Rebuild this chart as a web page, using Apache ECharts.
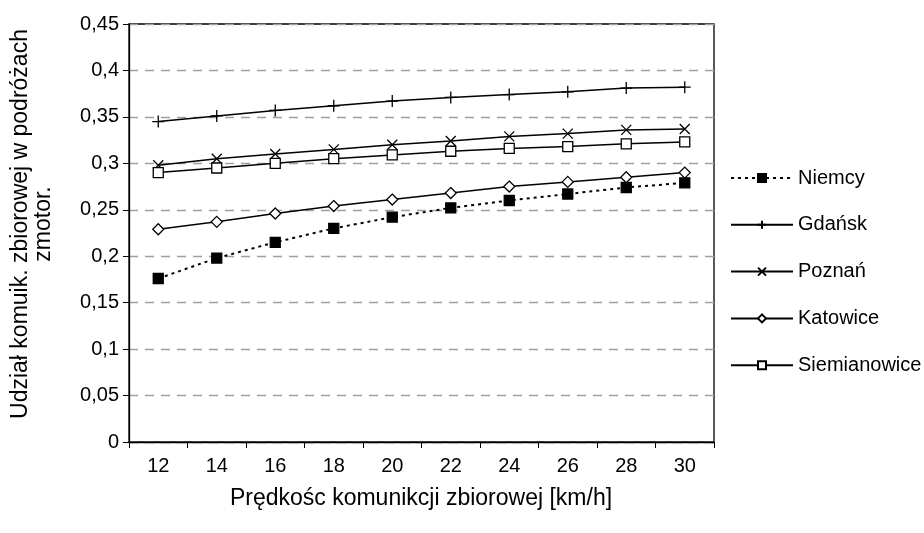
<!DOCTYPE html>
<html>
<head>
<meta charset="utf-8">
<script src="https://cdn.jsdelivr.net/npm/echarts@6/dist/echarts.min.js"></script>
<style>html,body{margin:0;padding:0;background:#fff}#c{width:924px;height:533px}</style>
</head>
<body>
<div id="c"></div>
<script>
const categories = ['12','14','16','18','20','22','24','26','28','30'];
const niemcy = [0.176,0.198,0.215,0.230,0.242,0.252,0.260,0.267,0.274,0.279];
const gdansk = [0.345,0.351,0.357,0.362,0.367,0.371,0.374,0.377,0.381,0.382];
const poznan = [0.298,0.305,0.310,0.315,0.320,0.324,0.329,0.332,0.336,0.337];
const katowice = [0.229,0.237,0.246,0.254,0.261,0.268,0.275,0.280,0.285,0.290];
const siemianowice = [0.290,0.295,0.300,0.305,0.309,0.313,0.316,0.318,0.321,0.323];
const yTitle = ['Udział komuik. zbiorowej w podróżach', 'zmotor.'];
const xTitle = 'Prędkośc komunikcji zbiorowej [km/h]';

const FONT = 'Liberation Sans, Arial, sans-serif';
const chart = echarts.init(document.getElementById('c'), null, {renderer: 'canvas'});
const plus = 'path://M6,0 L6,12 M0,6 L12,6';
const cross = 'path://M0,0 L10,10 M10,0 L0,10';

function lineSeries(name, data, symbol, size, fill, lineType, width) {
  return {
    name, type: 'line', data, symbol, symbolSize: size,
    showAllSymbol: true,
    lineStyle: {color: '#000', width: width, type: lineType},
    itemStyle: {color: fill, borderColor: '#000', borderWidth: 1.3},
    emphasis: {disabled: true},
    animation: false
  };
}

chart.setOption({
  backgroundColor: '#fff',
  animation: false,
  grid: {left: 129, top: 24, right: 210, bottom: 91, show: true, borderColor: '#000', borderWidth: 1.3, containLabel: false},
  legend: {
    orient: 'vertical', left: 730, top: 168, padding: 0,
    itemWidth: 62, itemHeight: 10, itemGap: 26.8,
    textStyle: {fontFamily: FONT, fontSize: 20, color: '#000'},
    data: ['Niemcy','Gdańsk','Poznań','Katowice','Siemianowice']
  },
  xAxis: {
    type: 'category', data: categories, boundaryGap: true,
    axisLine: {lineStyle: {color: '#000', width: 1.3}},
    axisTick: {show: true, length: 6, lineStyle: {color: '#000'}},
    axisLabel: {fontFamily: FONT, fontSize: 20, color: '#000', margin: 14},
    splitLine: {show: false}
  },
  yAxis: {
    type: 'value', min: 0, max: 0.45, interval: 0.05,
    axisLine: {show: true, lineStyle: {color: '#000', width: 1.3}},
    axisTick: {show: true, length: 6, lineStyle: {color: '#000'}},
    axisLabel: {fontFamily: FONT, fontSize: 20, color: '#000', margin: 10,
      formatter: v => String(Math.round(v * 100) / 100).replace('.', ',')},
    splitLine: {show: true, lineStyle: {color: '#a0a0a0', width: 1.3, type: [9, 7]}}
  },
  graphic: [
    {type: 'text', x: 32, y: 224, rotation: Math.PI / 2,
      style: {text: yTitle.join('\n'), align: 'center', verticalAlign: 'middle', lineHeight: 23,
        font: '23px ' + FONT, fill: '#000'}},
    {type: 'text', x: 421, y: 499,
      style: {text: xTitle, align: 'center', verticalAlign: 'middle',
        font: '23px ' + FONT, fill: '#000'}}
  ],
  series: [
    lineSeries('Niemcy', niemcy, 'rect', 10, '#000', [3, 4], 2),
    lineSeries('Gdańsk', gdansk, plus, 12, 'none', 'solid', 1.5),
    lineSeries('Poznań', poznan, cross, 10, 'none', 'solid', 1.5),
    lineSeries('Katowice', katowice, 'diamond', 11, '#fff', 'solid', 1.5),
    lineSeries('Siemianowice', siemianowice, 'rect', 10, '#fff', 'solid', 1.5)
  ]
});
</script>
</body>
</html>
